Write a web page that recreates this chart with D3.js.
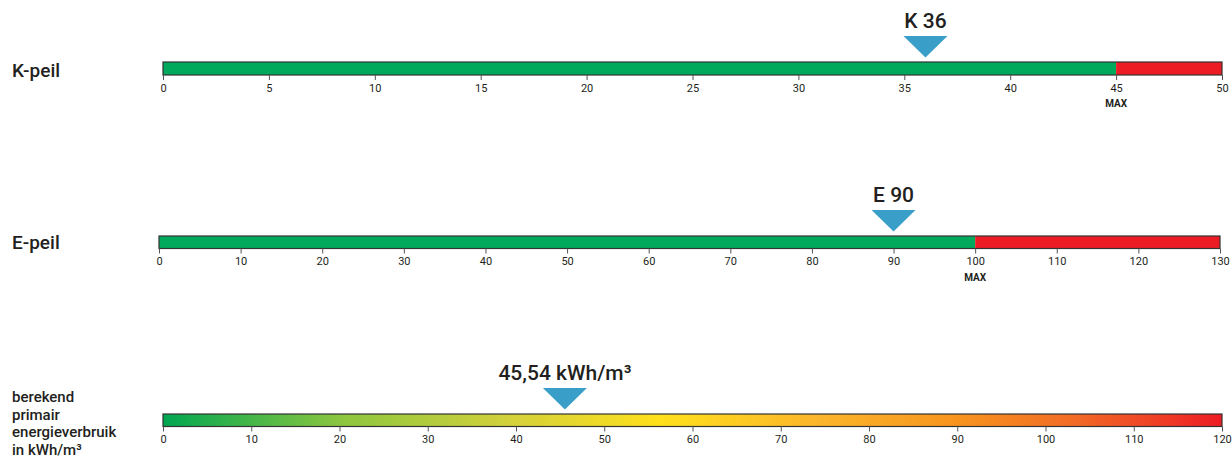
<!DOCTYPE html>
<html>
<head>
<meta charset="utf-8">
<script src="https://cdn.jsdelivr.net/npm/d3@7"></script>
<style>
  html, body { margin: 0; padding: 0; background: #ffffff; }
  svg { display: block; }
  text { font-family: Roboto, "Liberation Sans", sans-serif; fill: #231f20; }
</style>
</head>
<body>
<svg id="chart" width="1232" height="460"></svg>
<script>
// ---------- DATA ----------
const kTicks = [0, 5, 10, 15, 20, 25, 30, 35, 40, 45, 50];
const kDomain = [0, 50];
const kMax = 45;
const kValue = 36;
const kLabel = "K 36";
const kTitle = ["K-peil"];

const eTicks = [0, 10, 20, 30, 40, 50, 60, 70, 80, 90, 100, 110, 120, 130];
const eDomain = [0, 130];
const eMax = 100;
const eValue = 90;
const eLabel = "E 90";
const eTitle = ["E-peil"];

const pTicks = [0, 10, 20, 30, 40, 50, 60, 70, 80, 90, 100, 110, 120];
const pDomain = [0, 120];
const pValue = 45.54;
const pLabel = "45,54 kWh/m³";
const pTitle = ["berekend", "primair", "energieverbruik", "in kWh/m³"];

const maxLabel = "MAX";

// gradient stops (offset fraction, colour)
const gradOffsets = [0, 0.17, 0.33, 0.47, 0.62, 0.75, 0.86, 1];
const gradColors = ["#00a651", "#8dc63f", "#d4d13a", "#ffe01b", "#fbb52b", "#f7941d", "#f26b26", "#ed1c24"];

// ---------- DRAW ----------
const svg = d3.select("#chart");
const GREEN = "#00a95c", RED = "#ed1c24", BLUE = "#3a9fc8", STROKE = "#333333";

const defs = svg.append("defs");
const grad = defs.append("linearGradient").attr("id", "pgrad")
  .attr("x1", "0%").attr("x2", "100%").attr("y1", "0%").attr("y2", "0%");
grad.selectAll("stop").data(gradOffsets).join("stop")
  .attr("offset", d => d)
  .attr("stop-color", (d, i) => gradColors[i]);

function drawGauge(cfg) {
  const x = d3.scaleLinear().domain(cfg.domain).range([cfg.x0, cfg.x1]);
  const g = svg.append("g");
  const h = cfg.h;

  // title
  const t = g.append("text")
    .attr("x", 12)
    .style("font-size", cfg.titleSize + "px")
    .style("font-weight", 500);
  cfg.title.forEach((line, i) => {
    t.append("tspan").attr("x", 12).attr("y", cfg.titleY + i * cfg.titleLH).text(line);
  });

  // bar segments
  if (cfg.gradient) {
    g.append("rect")
      .attr("x", x(cfg.domain[0])).attr("y", cfg.y)
      .attr("width", x(cfg.domain[1]) - x(cfg.domain[0])).attr("height", h)
      .attr("fill", "url(#pgrad)");
  } else {
    g.append("rect")
      .attr("x", x(cfg.domain[0])).attr("y", cfg.y)
      .attr("width", x(cfg.max) - x(cfg.domain[0])).attr("height", h)
      .attr("fill", GREEN);
    g.append("rect")
      .attr("x", x(cfg.max)).attr("y", cfg.y)
      .attr("width", x(cfg.domain[1]) - x(cfg.max)).attr("height", h)
      .attr("fill", RED);
  }
  // outline
  g.append("rect")
    .attr("x", x(cfg.domain[0])).attr("y", cfg.y)
    .attr("width", x(cfg.domain[1]) - x(cfg.domain[0])).attr("height", h)
    .attr("fill", "none").attr("stroke", STROKE).attr("stroke-width", 1.2);

  // axis
  const axis = d3.axisBottom(x).tickValues(cfg.ticks).tickSize(5).tickPadding(4).tickFormat(d3.format("d"));
  const ax = g.append("g").attr("transform", `translate(0,${cfg.y + h})`).call(axis);
  ax.select(".domain").remove();
  ax.selectAll(".tick line").attr("stroke", "#555").attr("stroke-width", 1);
  ax.selectAll(".tick text")
    .style("font-family", "Roboto, 'Liberation Sans', sans-serif")
    .style("font-size", "11px")
    .attr("fill", "#231f20");

  // MAX label
  if (cfg.max !== undefined) {
    g.append("text")
      .attr("x", x(cfg.max)).attr("y", cfg.y + h + 32)
      .attr("text-anchor", "middle")
      .style("font-family", "'Liberation Sans Narrow', Roboto, sans-serif")
      .style("font-size", "10px")
      .style("font-weight", 700)
      .text(maxLabel);
  }

  // marker
  const mx = x(cfg.value);
  const top = cfg.y - 26, apex = cfg.y - 4.5, half = 22;
  g.append("path")
    .attr("d", `M${mx - half},${top} L${mx + half},${top} L${mx},${apex} Z`)
    .attr("fill", BLUE);
  g.append("text")
    .attr("x", mx).attr("y", top - 8)
    .attr("text-anchor", "middle")
    .style("font-size", "21px")
    .style("font-weight", 500)
    .text(cfg.label);
}

drawGauge({ domain: kDomain, ticks: kTicks, max: kMax, value: kValue, label: kLabel,
  title: kTitle, titleY: 77, titleLH: 0, titleSize: 19,
  x0: 163, x1: 1222, y: 62, h: 13 });

drawGauge({ domain: eDomain, ticks: eTicks, max: eMax, value: eValue, label: eLabel,
  title: eTitle, titleY: 249, titleLH: 0, titleSize: 19,
  x0: 159, x1: 1220, y: 236, h: 12.5 });

drawGauge({ domain: pDomain, ticks: pTicks, value: pValue, label: pLabel, gradient: true,
  title: pTitle, titleY: 402, titleLH: 17.5, titleSize: 15,
  x0: 163, x1: 1222, y: 414, h: 12.5 });
</script>
</body>
</html>
